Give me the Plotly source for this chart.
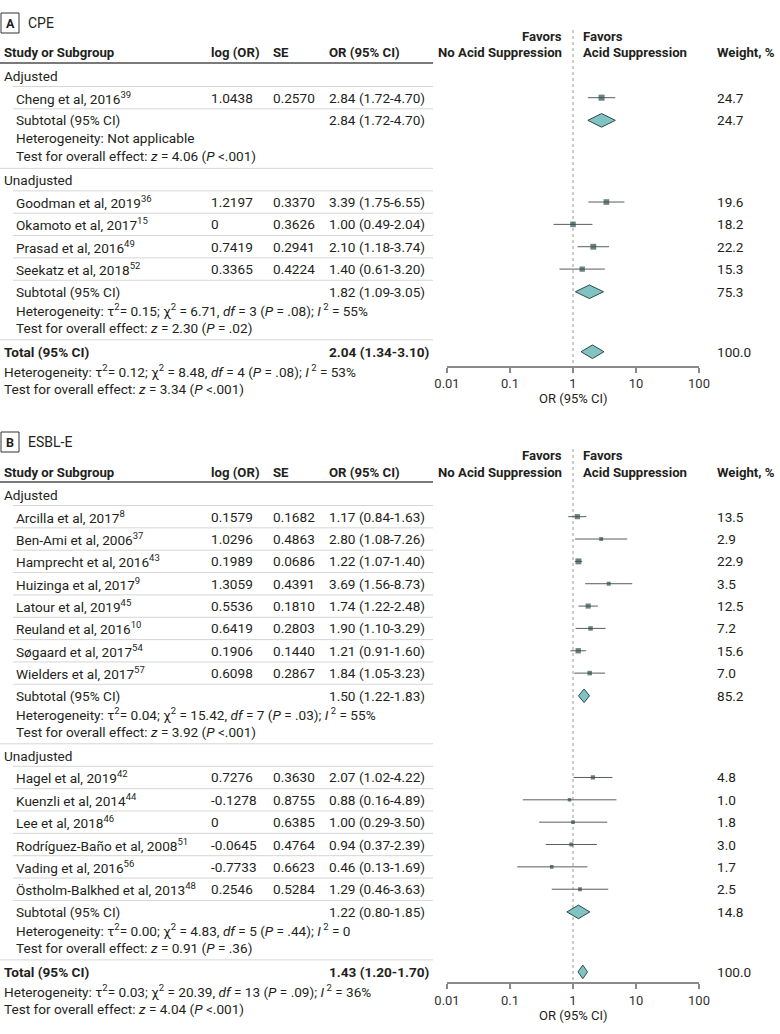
import math
import plotly.graph_objects as go

# ---------------- Panel A: CPE ----------------
A_label = "A"
A_title = "CPE"
A_groups = ["Adjusted", "Unadjusted"]
A_study = ["Cheng et al, 2016", "Goodman et al, 2019", "Okamoto et al, 2017",
           "Prasad et al, 2016", "Seekatz et al, 2018"]
A_ref = ["39", "36", "15", "49", "52"]
A_group = [0, 1, 1, 1, 1]
A_logor = ["1.0438", "1.2197", "0", "0.7419", "0.3365"]
A_se = ["0.2570", "0.3370", "0.3626", "0.2941", "0.4224"]
A_or = [2.84, 3.39, 1.00, 2.10, 1.40]
A_lo = [1.72, 1.75, 0.49, 1.18, 0.61]
A_hi = [4.70, 6.55, 2.04, 3.74, 3.20]
A_w = [24.7, 19.6, 18.2, 22.2, 15.3]
A_sub_or = [2.84, 1.82]
A_sub_lo = [1.72, 1.09]
A_sub_hi = [4.70, 3.05]
A_sub_w = [24.7, 75.3]
A_sub_het = ["Not applicable",
             "τ<sup>2</sup>= 0.15; χ<sup>2</sup> = 6.71, <i>df</i> = 3 (<i>P</i> = .08); <i>I</i><sup> 2</sup> = 55%"]
A_sub_z = ["<i>z</i> = 4.06 (<i>P</i> <.001)", "<i>z</i> = 2.30 (<i>P</i> = .02)"]
A_tot = [2.04, 1.34, 3.10, 100.0]
A_tot_het = "τ<sup>2</sup>= 0.12; χ<sup>2</sup> = 8.48, <i>df</i> = 4 (<i>P</i> = .08); <i>I</i><sup> 2</sup> = 53%"
A_tot_z = "<i>z</i> = 3.34 (<i>P</i> <.001)"

# ---------------- Panel B: ESBL-E ----------------
B_label = "B"
B_title = "ESBL-E"
B_groups = ["Adjusted", "Unadjusted"]
B_study = ["Arcilla et al, 2017", "Ben-Ami et al, 2006", "Hamprecht et al, 2016",
           "Huizinga et al, 2017", "Latour et al, 2019", "Reuland et al, 2016",
           "Søgaard et al, 2017", "Wielders et al, 2017",
           "Hagel et al, 2019", "Kuenzli et al, 2014", "Lee et al, 2018",
           "Rodríguez-Baño et al, 2008", "Vading et al, 2016",
           "Östholm-Balkhed et al, 2013"]
B_ref = ["8", "37", "43", "9", "45", "10", "54", "57", "42", "44", "46", "51", "56", "48"]
B_group = [0, 0, 0, 0, 0, 0, 0, 0, 1, 1, 1, 1, 1, 1]
B_logor = ["0.1579", "1.0296", "0.1989", "1.3059", "0.5536", "0.6419", "0.1906", "0.6098",
           "0.7276", "-0.1278", "0", "-0.0645", "-0.7733", "0.2546"]
B_se = ["0.1682", "0.4863", "0.0686", "0.4391", "0.1810", "0.2803", "0.1440", "0.2867",
        "0.3630", "0.8755", "0.6385", "0.4764", "0.6623", "0.5284"]
B_or = [1.17, 2.80, 1.22, 3.69, 1.74, 1.90, 1.21, 1.84, 2.07, 0.88, 1.00, 0.94, 0.46, 1.29]
B_lo = [0.84, 1.08, 1.07, 1.56, 1.22, 1.10, 0.91, 1.05, 1.02, 0.16, 0.29, 0.37, 0.13, 0.46]
B_hi = [1.63, 7.26, 1.40, 8.73, 2.48, 3.29, 1.60, 3.23, 4.22, 4.89, 3.50, 2.39, 1.69, 3.63]
B_w = [13.5, 2.9, 22.9, 3.5, 12.5, 7.2, 15.6, 7.0, 4.8, 1.0, 1.8, 3.0, 1.7, 2.5]
B_sub_or = [1.50, 1.22]
B_sub_lo = [1.22, 0.80]
B_sub_hi = [1.83, 1.85]
B_sub_w = [85.2, 14.8]
B_sub_het = ["τ<sup>2</sup>= 0.04; χ<sup>2</sup> = 15.42, <i>df</i> = 7 (<i>P</i> = .03); <i>I</i><sup> 2</sup> = 55%",
             "τ<sup>2</sup>= 0.00; χ<sup>2</sup> = 4.83, <i>df</i> = 5 (<i>P</i> = .44); <i>I</i><sup> 2</sup> = 0"]
B_sub_z = ["<i>z</i> = 3.92 (<i>P</i> <.001)", "<i>z</i> = 0.91 (<i>P</i> = .36)"]
B_tot = [1.43, 1.20, 1.70, 100.0]
B_tot_het = "τ<sup>2</sup>= 0.03; χ<sup>2</sup> = 20.39, <i>df</i> = 13 (<i>P</i> = .09); <i>I</i><sup> 2</sup> = 36%"
B_tot_z = "<i>z</i> = 4.04 (<i>P</i> <.001)"

X_TICKS = [0.01, 0.1, 1, 10, 100]
X_TICKTEXT = ["0.01", "0.1", "1", "10", "100"]

# ---------------- styling / layout ----------------
W, H = 780, 1034
FONT = "Roboto"
FS = 13.6
TXT = "#231f20"
SQ = "#2c4f4b"
CI_C = "#5c5c5c"
DIA_F = "#80c3c2"
DIA_L = "#2f4a48"
PLOT_X0, PLOT_X1 = 447, 699
COL_NAME, COL_GRP, COL_LOG, COL_SE, COL_OR, COL_W = 15, 3, 210, 272, 328, 716
TABLE_R = 433
PITCH = 22.35

fig = go.Figure()
ann = []
shapes = []


def P(y):
    return 1 - y / H


def text(x, y, s, bold=False, size=FS, anchor="left", color=TXT):
    if bold:
        s = "<b>" + s + "</b>"
    ann.append(dict(x=x / W, y=P(y), xref="paper", yref="paper", text=s, showarrow=False,
                    xanchor=anchor, yanchor="middle", align=anchor,
                    font=dict(family=FONT, size=size, color=color), borderpad=0))


def hline(y, x0, x1, color="#d6d6d6", width=1):
    shapes.append(dict(type="line", xref="paper", yref="paper", x0=x0 / W, x1=x1 / W,
                       y0=P(y), y1=P(y), line=dict(color=color, width=width)))


def ci_txt(o, l, h):
    return f"{o:.2f} ({l:.2f}-{h:.2f})"


def panel(k, top, axis_gap, label, title, groups, study, ref, group, logor, se, orv, lo, hi, w,
          sub_or, sub_lo, sub_hi, sub_w, sub_het, sub_z, tot, tot_het, tot_z):
    xa = "x" if k == 1 else "x2"
    ya = "y" if k == 1 else "y2"
    hdr = top + 53
    # panel label
    shapes.append(dict(type="rect", xref="paper", yref="paper", x0=1 / W, x1=19 / W,
                       y0=P(top + 13), y1=P(top + 33), line=dict(color="#333", width=1)))
    text(10, top + 23.5, label, bold=True, size=12.5, anchor="center")
    text(27, top + 23, title, size=14)
    # headers
    hs = FS - 0.4
    text(COL_GRP, hdr, "Study or Subgroup", bold=True, size=hs)
    text(COL_LOG, hdr, "log (OR)", bold=True, size=hs)
    text(COL_SE, hdr, "SE", bold=True, size=hs)
    text(COL_OR, hdr, "OR (95% CI)", bold=True, size=hs)
    text(COL_W, hdr, "Weight, %", bold=True, size=hs)
    text(563, hdr - 17, "Favors", bold=True, anchor="right", size=hs)
    text(563, hdr, "No Acid Suppression", bold=True, anchor="right", size=hs)
    text(582, hdr - 17, "Favors", bold=True, size=hs)
    text(582, hdr, "Acid Suppression", bold=True, size=hs)
    hline(hdr + 10, 0, TABLE_R, color="#7a7a7a", width=2)

    ci_x, ci_y, sq_x, sq_y, sq_s = [], [], [], [], []
    dx, dy = [], []
    y = hdr + 23
    for g, gname in enumerate(groups):
        if g > 0:
            hline(y - 12, 0, TABLE_R)
        text(COL_GRP, y, gname)
        line_y = y + 10.5
        hline(line_y, 13, TABLE_R)
        for i in [j for j in range(len(study)) if group[j] == g]:
            ry = line_y + PITCH / 2
            text(COL_NAME, ry, f"{study[i]}<sup>{ref[i]}</sup>")
            text(COL_LOG, ry, logor[i])
            text(COL_SE, ry, se[i])
            text(COL_OR, ry, ci_txt(orv[i], lo[i], hi[i]))
            text(COL_W, ry, f"{w[i]:.1f}")
            ci_x += [lo[i], hi[i], None]
            ci_y += [ry, ry, None]
            sq_x.append(orv[i])
            sq_y.append(ry)
            sq_s.append(2.8 + 0.65 * math.sqrt(w[i]))
            line_y = ry + PITCH / 2
            hline(line_y, 13, TABLE_R)
        sy = line_y + 11.5
        text(COL_NAME, sy, "Subtotal (95% CI)")
        text(COL_OR, sy, ci_txt(sub_or[g], sub_lo[g], sub_hi[g]))
        text(COL_W, sy, f"{sub_w[g]:.1f}")
        dx += [sub_lo[g], sub_or[g], sub_hi[g], sub_or[g], sub_lo[g], None]
        dy += [sy, sy - 6.8, sy, sy + 6.8, sy, None]
        text(COL_NAME, sy + 18, "Heterogeneity: " + sub_het[g])
        text(COL_NAME, sy + 36, "Test for overall effect: " + sub_z[g])
        y = sy + 36 + 24
    # total
    hline(y - 12, 0, TABLE_R)
    text(COL_GRP, y, "Total (95% CI)", bold=True)
    text(COL_OR, y, ci_txt(tot[0], tot[1], tot[2]), bold=True)
    text(COL_W, y, f"{tot[3]:.1f}")
    dx += [tot[1], tot[0], tot[2], tot[0], tot[1], None]
    dy += [y, y - 6.8, y, y + 6.8, y, None]
    text(COL_GRP, y + 19, "Heterogeneity: " + tot_het)
    text(COL_GRP, y + 37, "Test for overall effect: " + tot_z)

    axis_y = y + axis_gap
    # reference line
    fig.add_trace(go.Scatter(x=[1, 1], y=[top + 30, axis_y], mode="lines", xaxis=xa, yaxis=ya,
                             line=dict(color="#9a9a9a", width=1, dash="dot"),
                             hoverinfo="skip", showlegend=False))
    fig.add_trace(go.Scatter(x=ci_x, y=ci_y, mode="lines", xaxis=xa, yaxis=ya,
                             line=dict(color=CI_C, width=1), hoverinfo="skip", showlegend=False))
    fig.add_trace(go.Scatter(x=sq_x, y=sq_y, mode="markers", xaxis=xa, yaxis=ya,
                             marker=dict(symbol="square", size=sq_s, color=SQ, line=dict(width=0)),
                             hoverinfo="skip", showlegend=False))
    fig.add_trace(go.Scatter(x=dx, y=dy, mode="lines", fill="toself", fillcolor=DIA_F, xaxis=xa,
                             yaxis=ya, line=dict(color=DIA_L, width=1), hoverinfo="skip",
                             showlegend=False))
    text((PLOT_X0 + PLOT_X1) / 2, axis_y + 33, "OR (95% CI)", anchor="center", size=13)
    return axis_y, top


axA, topA = panel(1, 0, 14, A_label, A_title, A_groups, A_study, A_ref, A_group, A_logor, A_se,
                  A_or, A_lo, A_hi, A_w, A_sub_or, A_sub_lo, A_sub_hi, A_sub_w, A_sub_het,
                  A_sub_z, A_tot, A_tot_het, A_tot_z)
axB, topB = panel(2, 419, 10.5, B_label, B_title, B_groups, B_study, B_ref, B_group, B_logor,
                  B_se, B_or, B_lo, B_hi, B_w, B_sub_or, B_sub_lo, B_sub_hi, B_sub_w, B_sub_het,
                  B_sub_z, B_tot, B_tot_het, B_tot_z)

xcommon = dict(type="log", range=[-2, 2], domain=[PLOT_X0 / W, PLOT_X1 / W], showgrid=False,
               zeroline=False, showline=True, linecolor="#8a8a8a", linewidth=1.5,
               ticks="outside", ticklen=5, tickwidth=1.5, tickcolor="#8a8a8a",
               tickvals=X_TICKS, ticktext=X_TICKTEXT, automargin=False,
               tickfont=dict(family=FONT, size=13, color="#333"), fixedrange=True)

yB_top = topB - 19
fig.update_layout(
    template="none",
    width=W, height=H, autosize=False, margin=dict(l=0, r=0, t=0, b=0, pad=0),
    paper_bgcolor="white", plot_bgcolor="rgba(0,0,0,0)",
    xaxis=dict(**xcommon, anchor="y"),
    xaxis2=dict(**xcommon, anchor="y2"),
    yaxis=dict(domain=[P(axA), P(topA)], range=[axA, topA], visible=False, fixedrange=True,
               automargin=False),
    yaxis2=dict(domain=[P(axB), P(yB_top)], range=[axB, yB_top], visible=False,
                fixedrange=True, automargin=False),
    annotations=ann, shapes=shapes, showlegend=False,
)

fig.write_html("out.html", config={"displayModeBar": False},
               post_script="document.body.style.margin='0px';document.body.style.padding='0px';")
